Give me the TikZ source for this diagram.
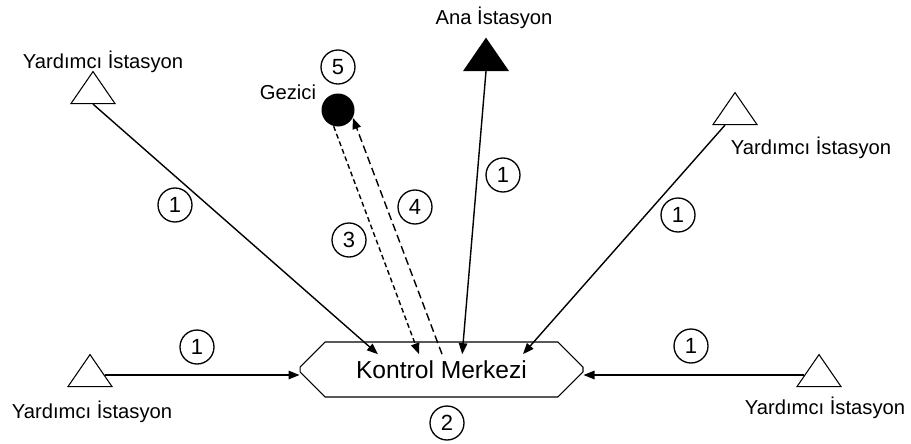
\documentclass[tikz,border=0pt]{standalone}
\usepackage{fontspec}
\setmainfont{Liberation Sans}
\usetikzlibrary{shapes.geometric,shapes.misc,arrows.meta,positioning,calc}

\begin{document}
\begin{tikzpicture}[x=0.02cm, y=-0.02cm,
    station/.style={isosceles triangle, isosceles triangle stretches,
        shape border rotate=90, draw, line width=0.6pt, inner sep=0pt,
        minimum width=0.88cm, minimum height=0.64cm},
    ctrlbox/.style={chamfered rectangle, chamfered rectangle xsep=0.32cm,
        chamfered rectangle ysep=0.32cm, draw, line width=0.6pt,
        minimum width=5.66cm, minimum height=1.1cm, inner sep=0pt,
        font=\fontsize{14}{16}\selectfont},
    rover/.style={circle, fill=black, minimum size=0.66cm, inner sep=0pt},
    lbl/.style={font=\fontsize{11.5}{13}\selectfont, inner sep=1pt},
    num/.style={circle, draw, line width=0.75pt, minimum size=0.68cm,
        inner sep=0pt, font=\fontsize{12.5}{14}\selectfont},
    arr/.style={-{Triangle[length=0.22cm, width=0.17cm]}, line width=0.8pt}
]
    \useasboundingbox (0,0) rectangle (911,443);

    % control centre and rover
    \node[ctrlbox] (kontrol) at (441.5,369.5) {Kontrol Merkezi};
    \node[rover] (gezici) at (338,110) {};
    \node[lbl] (gezici-l) at (288,92) {Gezici};

    % stations
    \node[station, fill=black] (ana) at (486,59) {};
    \node[station] (yNW) at (93,92) {};
    \node[station] (yNE) at (735,113) {};
    \node[station] (ySW) at (90,375) {};
    \node[station] (ySE) at (819,375) {};

    \node[lbl] (ana-l) at (494,18) {Ana İstasyon};
    \node[lbl] (yNW-l) at (103,62) {Yardımcı İstasyon};
    \node[lbl] (yNE-l) at (811,148) {Yardımcı İstasyon};
    \node[lbl] (ySW-l) at (92,412) {Yardımcı İstasyon};
    \node[lbl] (ySE-l) at (825,408) {Yardımcı İstasyon};

    % links into the control centre
    \draw[arr] (yNW.lower side) -- ($(kontrol.north west)!0.254!(kontrol.north east)$);
    \draw[arr] (ana.lower side) -- ($(kontrol.north west)!0.58!(kontrol.north east)$);
    \draw[arr] ([xshift=-0.2cm]yNE.lower side) -- ($(kontrol.north west)!0.815!(kontrol.north east)$);
    \draw[arr] (ySW.east) -- (ySW.east -| kontrol.west);
    \draw[arr] (ySE.west) -- (ySE.west -| kontrol.east);

    % rover traffic
    \draw[arr, dash pattern=on 2.8pt off 1.8pt] (gezici.-105)
        -- ($(kontrol.north west)!0.413!(kontrol.north east)$);
    \draw[arr, dash pattern=on 4.5pt off 2.3pt]
        ($(kontrol.north west)!0.502!(kontrol.north east)$) -- (gezici.-28);

    % step numbers
    \node[num] (n1a) at (175,205) {1};
    \node[num] (n1b) at (503,175) {1};
    \node[num] (n1c) at (678,215) {1};
    \node[num] (n1d) at (197,347) {1};
    \node[num] (n1e) at (691,346) {1};
    \node[num] (n2) at (447,423) {2};
    \node[num] (n3) at (349,240) {3};
    \node[num] (n4) at (415,207) {4};
    \node[num] (n5) at (338,67) {5};
\end{tikzpicture}
\end{document}
